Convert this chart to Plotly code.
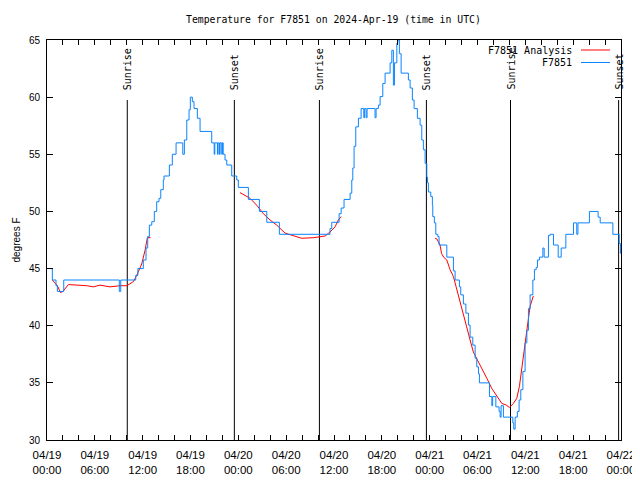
import pandas as pd
import plotly.graph_objects as go

# ---------------- data ----------------
title_text = "Temperature for F7851 on 2024-Apr-19 (time in UTC)"
base_time = "2024-04-19 00:00"

obs_hours = [0.0, 0.67, 1.13, 1.3, 2.1, 9.07, 9.25, 11.13, 11.4, 12.08, 12.42, 12.63, 12.84, 13.14,
             13.46, 13.76, 14.05, 14.27, 14.59, 14.68, 15.35, 15.72, 16.19, 17.03, 17.23, 17.53,
             17.82, 17.98, 18.23, 18.44, 18.86, 19.2, 20.66, 20.97, 21.05, 21.38, 21.46, 21.63,
             21.71, 21.92, 22.0, 22.1, 22.33, 22.55, 23.17, 23.8, 24.0, 25.26, 26.64, 27.57,
             29.15, 35.5, 35.72, 36.64, 36.9, 37.26, 38.02, 38.23, 38.36, 38.52, 38.73, 39.06,
             39.4, 39.74, 39.84, 40.03, 40.15, 41.15, 41.28, 41.57, 41.78, 42.12, 42.41, 43.04,
             43.25, 43.45, 43.58, 43.88, 44.0, 44.2, 44.42, 45.33, 45.55, 45.83, 46.05, 46.46,
             46.8, 47.01, 47.21, 47.43, 47.64, 47.74, 47.84, 48.14, 48.34, 48.39, 48.59, 48.77,
             49.02, 49.18, 50.15, 50.98, 51.19, 51.73, 51.9, 52.23, 52.54, 52.86, 53.07, 53.41,
             53.7, 53.91, 54.12, 54.24, 55.5, 55.8, 55.9, 56.3, 56.71, 56.84, 56.96, 57.25,
             58.43, 58.55, 58.72, 59.0, 59.22, 59.43, 59.69, 59.97, 60.19, 60.39, 60.6, 60.94,
             61.14, 61.36, 61.52, 61.77, 62.2, 62.36, 62.9, 63.11, 63.53, 64.12, 64.5, 65.08,
             66.04, 66.45, 66.6, 68.04, 69.13, 69.39, 70.98, 71.77, 71.93]
obs_temps = [45.0, 44.0, 43.5, 43.0, 44.0, 43.0, 44.0, 44.4, 45.0, 45.75, 46.8, 47.8, 48.8, 49.1,
             50.0, 50.85, 51.15, 51.9, 52.75, 53.1, 54.06, 55.0, 56.0, 55.0, 56.25, 58.0,
             58.9, 60.0, 59.6, 59.0, 58.15, 57.0, 56.0, 55.0, 56.0, 55.0, 56.0, 55.0,
             56.0, 55.0, 56.0, 55.0, 54.5, 54.06, 53.1, 52.75, 52.1, 51.05, 50.0, 49.05,
             48.0, 48.5, 49.05, 49.8, 50.3, 51.05, 51.6, 52.75, 53.8, 55.7, 57.4, 58.15,
             59.0, 58.2, 59.0, 58.2, 59.0, 58.2, 59.0, 59.3, 60.05, 61.2, 62.1, 63.0,
             64.1, 61.05, 63.0, 64.7, 65.0, 63.8, 62.1, 61.5, 60.8, 59.75, 59.0, 58.15,
             57.55, 56.25, 55.4, 54.2, 53.0, 52.5, 51.7, 51.3, 50.55, 49.55, 49.0, 48.0,
             47.8, 47.06, 46.0, 44.8, 44.0, 43.4, 42.7, 41.9, 41.1, 40.06, 39.0, 38.3,
             37.15, 36.4, 35.8, 35.0, 33.8, 33.0, 33.8, 32.9, 32.5, 32.0, 33.0, 32.0,
             31.5, 30.95, 32.0, 32.5, 33.5, 34.4, 36.0, 38.5, 39.6, 41.5, 42.7, 44.0,
             44.9, 45.1, 45.75, 46.0, 46.8, 46.0, 47.9, 48.0, 47.06, 46.0, 46.8, 48.0,
             49.0, 48.0, 49.0, 50.0, 49.5, 49.0, 48.0, 47.2, 46.3]

ana_hours = [0.67, 1.3, 1.7, 2.0, 2.68, 5.0, 5.81, 6.65, 7.9, 9.16, 10.0, 10.83, 11.25, 11.88,
             12.3, 12.59, 13.0,
             None,
             24.2, 25.47, 26.3, 27.14, 27.98, 28.82, 29.86, 30.9, 31.96, 33.4, 34.88, 35.5,
             36.13, 36.55, 36.9,
             None,
             48.68, 48.9, 49.3, 49.5, 49.81, 50.15, 50.56, 50.98, 51.32, 51.6, 51.9, 52.23,
             52.64, 53.07, 53.48, 53.99, 54.54, 55.17, 55.8, 56.43, 57.05, 57.6, 58.0, 58.5,
             58.93, 59.26, 59.56, 59.85, 60.19, 60.6, 61.0]
ana_temps = [44.0, 43.5, 42.9, 43.0, 43.6, 43.5, 43.4, 43.55, 43.4, 43.5, 43.5, 43.85, 44.4, 45.4,
             46.6, 47.7, 47.7,
             None,
             51.65, 51.15, 50.55, 49.8, 49.25, 48.8, 48.1, 47.85, 47.65, 47.7, 47.85, 48.2,
             48.65, 49.25, 49.55,
             None,
             47.65, 47.6, 47.06, 46.3, 45.95, 45.75, 44.9, 44.3, 43.4, 42.7, 41.8, 40.9,
             39.9, 38.75, 37.7, 37.0, 36.3, 35.4, 34.5, 33.8, 33.2, 33.06, 32.85, 33.2,
             33.65, 34.7, 36.4, 38.2, 39.6, 41.7, 42.6]

sunrise_hours = [10.07, 34.17, 58.14]
sunset_hours = [23.5, 47.59, 71.7]

tick_hours = list(range(0, 73, 2))
tick_dates = ["04/19", "04/20", "04/21", "04/22"]

y_range = [30, 65]
y_ticks = [30, 35, 40, 45, 50, 55, 60, 65]

# ---------------- helpers ----------------
base = pd.Timestamp(base_time)


def to_time(h):
    if h is None:
        return None
    return base + pd.to_timedelta(h, unit="h")


MONO = "DejaVu Sans Mono"
SANS = "Liberation Sans"
BLUE = "#0a84ff"
RED = "#ff0000"

# page offset (browser body margin) and target plot box in screen pixels
OFF = 8
PLOT_L, PLOT_R, PLOT_T, PLOT_B = 47, 621, 40, 440
W, H = 640 - OFF, 480 - OFF
PW, PH = PLOT_R - PLOT_L, PLOT_B - PLOT_T


def px_x(px):
    return (px - PLOT_L) / PW


def px_y(py):
    return (PLOT_B - py) / PH


fig = go.Figure()

fig.add_trace(go.Scatter(
    x=[to_time(h) for h in ana_hours], y=ana_temps, mode="lines",
    line=dict(color=RED, width=1), name="F7851 Analysis", connectgaps=False,
    showlegend=False))
fig.add_trace(go.Scatter(
    x=[to_time(h) for h in obs_hours], y=obs_temps, mode="lines",
    line=dict(color=BLUE, width=1, shape="hv"), name="F7851", showlegend=False))

shapes = []
annotations = []
label_y = 60.45
line_top = 59.75
for name, hours in (("Sunrise", sunrise_hours), ("Sunset", sunset_hours)):
    for h in hours:
        shapes.append(dict(type="line", xref="x", yref="y", x0=to_time(h), x1=to_time(h),
                           y0=y_range[0], y1=line_top, line=dict(color="black", width=1),
                           layer="below"))
        annotations.append(dict(text=name, x=to_time(h), y=label_y, xref="x", yref="y",
                                textangle=-90, showarrow=False, xanchor="center",
                                yanchor="bottom", font=dict(family=MONO, size=10, color="black")))

# manual legend (text right-aligned, sample to the right)
for label, color, py in (("F7851 Analysis", RED, 50), ("F7851", BLUE, 62.5)):
    annotations.append(dict(text=label, x=px_x(574), y=px_y(py), xref="paper", yref="paper",
                            xanchor="right", yanchor="middle", showarrow=False,
                            font=dict(family=MONO, size=10, color="black")))
    shapes.append(dict(type="line", xref="paper", yref="paper", x0=px_x(581), x1=px_x(610),
                       y0=px_y(py), y1=px_y(py), line=dict(color=color, width=1)))

# title
annotations.append(dict(text=title_text, x=px_x(333), y=px_y(20), xref="paper", yref="paper",
                        xanchor="center", yanchor="middle", showarrow=False,
                        font=dict(family=MONO, size=9.8, color="black")))
# y title
annotations.append(dict(text="degrees F", x=px_x(8), y=0.5, xref="paper", yref="paper",
                        xanchor="left", yanchor="middle", textangle=-90, showarrow=False,
                        font=dict(family=SANS, size=10, color="black")))

tick_vals = [to_time(h) for h in tick_hours]
tick_text = []
for h in tick_hours:
    if h % 6 == 0:
        tick_text.append(f"{tick_dates[h // 24]}<br>{h % 24:02d}:00")
    else:
        tick_text.append("")

fig.update_layout(
    width=W, height=H,
    margin=dict(l=PLOT_L - OFF, r=640 - PLOT_R, t=PLOT_T - OFF, b=480 - PLOT_B, pad=0),
    paper_bgcolor="white", plot_bgcolor="white",
    shapes=shapes, annotations=annotations,
    showlegend=False,
    xaxis=dict(range=[to_time(0), to_time(72)], tickmode="array", tickvals=tick_vals,
               ticktext=tick_text, ticks="inside", ticklen=5, tickcolor="black", tickwidth=1,
               showline=True, linecolor="black", linewidth=1, mirror="ticks",
               showgrid=False, zeroline=False, automargin=False,
               tickfont=dict(family=SANS, size=11.5, color="black"), ticklabelstandoff=4),
    yaxis=dict(range=y_range, tickmode="array", tickvals=y_ticks,
               ticks="inside", ticklen=6, tickcolor="black", tickwidth=1,
               showline=True, linecolor="black", linewidth=1, mirror="ticks",
               showgrid=False, zeroline=False, automargin=False,
               tickfont=dict(family=SANS, size=10, color="black"), ticklabelstandoff=4),
)

fig.write_html("out.html")
